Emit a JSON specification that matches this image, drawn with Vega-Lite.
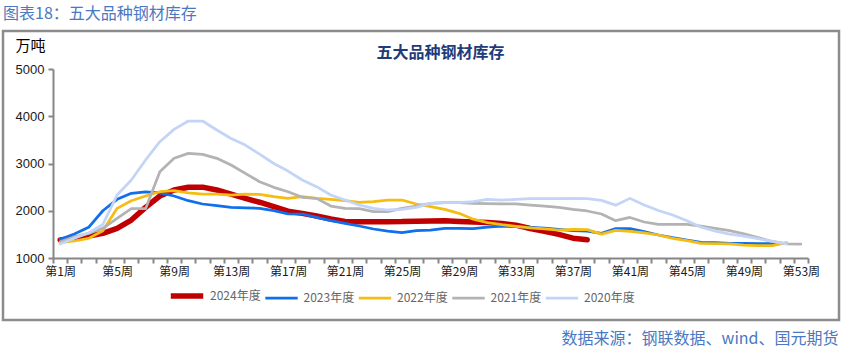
{
"$schema": "https://vega.github.io/schema/vega-lite/v6.json",
"autosize": {"type": "none"},
"width": 836, "height": 289,
"padding": {"left": 3, "top": 31, "right": 8, "bottom": 31},
"background": "white",
"title": {"text": "图表18：五大品种钢材库存", "anchor": "start", "frame": "group", "orient": "top", "offset": 9, "font": "Noto Sans CJK SC", "fontSize": 16, "fontWeight": "normal", "color": "#4a78c2"},
"data": {"values": [
{"week":1,"series":"2024年度","value":1381},{"week":2,"series":"2024年度","value":1416},{"week":3,"series":"2024年度","value":1466},{"week":4,"series":"2024年度","value":1522},{"week":5,"series":"2024年度","value":1628},{"week":6,"series":"2024年度","value":1804},{"week":7,"series":"2024年度","value":2072},{"week":8,"series":"2024年度","value":2312},{"week":9,"series":"2024年度","value":2439},{"week":10,"series":"2024年度","value":2496},{"week":11,"series":"2024年度","value":2500},{"week":12,"series":"2024年度","value":2439},{"week":13,"series":"2024年度","value":2350},{"week":14,"series":"2024年度","value":2260},{"week":15,"series":"2024年度","value":2180},{"week":16,"series":"2024年度","value":2086},{"week":17,"series":"2024年度","value":1990},{"week":18,"series":"2024年度","value":1945},{"week":19,"series":"2024年度","value":1890},{"week":20,"series":"2024年度","value":1825},{"week":21,"series":"2024年度","value":1775},{"week":22,"series":"2024年度","value":1765},{"week":23,"series":"2024年度","value":1765},{"week":24,"series":"2024年度","value":1768},{"week":25,"series":"2024年度","value":1770},{"week":26,"series":"2024年度","value":1780},{"week":27,"series":"2024年度","value":1785},{"week":28,"series":"2024年度","value":1790},{"week":29,"series":"2024年度","value":1775},{"week":30,"series":"2024年度","value":1762},{"week":31,"series":"2024年度","value":1752},{"week":32,"series":"2024年度","value":1730},{"week":33,"series":"2024年度","value":1695},{"week":34,"series":"2024年度","value":1625},{"week":35,"series":"2024年度","value":1565},{"week":36,"series":"2024年度","value":1500},{"week":37,"series":"2024年度","value":1420},{"week":38,"series":"2024年度","value":1385},
{"week":1,"series":"2023年度","value":1395},{"week":2,"series":"2023年度","value":1508},{"week":3,"series":"2023年度","value":1650},{"week":4,"series":"2023年度","value":2000},{"week":5,"series":"2023年度","value":2242},{"week":6,"series":"2023年度","value":2369},{"week":7,"series":"2023年度","value":2397},{"week":8,"series":"2023年度","value":2380},{"week":9,"series":"2023年度","value":2312},{"week":10,"series":"2023年度","value":2213},{"week":11,"series":"2023年度","value":2143},{"week":12,"series":"2023年度","value":2107},{"week":13,"series":"2023年度","value":2072},{"week":14,"series":"2023年度","value":2060},{"week":15,"series":"2023年度","value":2051},{"week":16,"series":"2023年度","value":2001},{"week":17,"series":"2023年度","value":1935},{"week":18,"series":"2023年度","value":1931},{"week":19,"series":"2023年度","value":1861},{"week":20,"series":"2023年度","value":1790},{"week":21,"series":"2023年度","value":1733},{"week":22,"series":"2023年度","value":1677},{"week":23,"series":"2023年度","value":1614},{"week":24,"series":"2023年度","value":1571},{"week":25,"series":"2023年度","value":1536},{"week":26,"series":"2023年度","value":1578},{"week":27,"series":"2023年度","value":1592},{"week":28,"series":"2023年度","value":1628},{"week":29,"series":"2023年度","value":1625},{"week":30,"series":"2023年度","value":1620},{"week":31,"series":"2023年度","value":1655},{"week":32,"series":"2023年度","value":1677},{"week":33,"series":"2023年度","value":1663},{"week":34,"series":"2023年度","value":1650},{"week":35,"series":"2023年度","value":1630},{"week":36,"series":"2023年度","value":1607},{"week":37,"series":"2023年度","value":1578},{"week":38,"series":"2023年度","value":1571},{"week":39,"series":"2023年度","value":1522},{"week":40,"series":"2023年度","value":1621},{"week":41,"series":"2023年度","value":1621},{"week":42,"series":"2023年度","value":1557},{"week":43,"series":"2023年度","value":1487},{"week":44,"series":"2023年度","value":1430},{"week":45,"series":"2023年度","value":1381},{"week":46,"series":"2023年度","value":1332},{"week":47,"series":"2023年度","value":1324},{"week":48,"series":"2023年度","value":1311},{"week":49,"series":"2023年度","value":1311},{"week":50,"series":"2023年度","value":1303},{"week":51,"series":"2023年度","value":1303},{"week":52,"series":"2023年度","value":1303},
{"week":1,"series":"2022年度","value":1324},{"week":2,"series":"2022年度","value":1360},{"week":3,"series":"2022年度","value":1416},{"week":4,"series":"2022年度","value":1578},{"week":5,"series":"2022年度","value":2051},{"week":6,"series":"2022年度","value":2213},{"week":7,"series":"2022年度","value":2312},{"week":8,"series":"2022年度","value":2403},{"week":9,"series":"2022年度","value":2424},{"week":10,"series":"2022年度","value":2380},{"week":11,"series":"2022年度","value":2354},{"week":12,"series":"2022年度","value":2350},{"week":13,"series":"2022年度","value":2333},{"week":14,"series":"2022年度","value":2350},{"week":15,"series":"2022年度","value":2347},{"week":16,"series":"2022年度","value":2298},{"week":17,"series":"2022年度","value":2262},{"week":18,"series":"2022年度","value":2298},{"week":19,"series":"2022年度","value":2262},{"week":20,"series":"2022年度","value":2242},{"week":21,"series":"2022年度","value":2213},{"week":22,"series":"2022年度","value":2178},{"week":23,"series":"2022年度","value":2191},{"week":24,"series":"2022年度","value":2227},{"week":25,"series":"2022年度","value":2227},{"week":26,"series":"2022年度","value":2143},{"week":27,"series":"2022年度","value":2086},{"week":28,"series":"2022年度","value":2030},{"week":29,"series":"2022年度","value":1945},{"week":30,"series":"2022年度","value":1822},{"week":31,"series":"2022年度","value":1750},{"week":32,"series":"2022年度","value":1705},{"week":33,"series":"2022年度","value":1670},{"week":34,"series":"2022年度","value":1640},{"week":35,"series":"2022年度","value":1615},{"week":36,"series":"2022年度","value":1592},{"week":37,"series":"2022年度","value":1607},{"week":38,"series":"2022年度","value":1600},{"week":39,"series":"2022年度","value":1505},{"week":40,"series":"2022年度","value":1585},{"week":41,"series":"2022年度","value":1565},{"week":42,"series":"2022年度","value":1530},{"week":43,"series":"2022年度","value":1487},{"week":44,"series":"2022年度","value":1416},{"week":45,"series":"2022年度","value":1367},{"week":46,"series":"2022年度","value":1311},{"week":47,"series":"2022年度","value":1303},{"week":48,"series":"2022年度","value":1300},{"week":49,"series":"2022年度","value":1275},{"week":50,"series":"2022年度","value":1261},{"week":51,"series":"2022年度","value":1261},{"week":52,"series":"2022年度","value":1324},
{"week":1,"series":"2021年度","value":1345},{"week":2,"series":"2021年度","value":1450},{"week":3,"series":"2021年度","value":1522},{"week":4,"series":"2021年度","value":1628},{"week":5,"series":"2021年度","value":1840},{"week":6,"series":"2021年度","value":2044},{"week":7,"series":"2021年度","value":2044},{"week":8,"series":"2021年度","value":2827},{"week":9,"series":"2021年度","value":3110},{"week":10,"series":"2021年度","value":3215},{"week":11,"series":"2021年度","value":3194},{"week":12,"series":"2021年度","value":3110},{"week":13,"series":"2021年度","value":2968},{"week":14,"series":"2021年度","value":2792},{"week":15,"series":"2021年度","value":2615},{"week":16,"series":"2021年度","value":2496},{"week":17,"series":"2021年度","value":2403},{"week":18,"series":"2021年度","value":2284},{"week":19,"series":"2021年度","value":2262},{"week":20,"series":"2021年度","value":2100},{"week":21,"series":"2021年度","value":2051},{"week":22,"series":"2021年度","value":2044},{"week":23,"series":"2021年度","value":1980},{"week":24,"series":"2021年度","value":1980},{"week":25,"series":"2021年度","value":2051},{"week":26,"series":"2021年度","value":2100},{"week":27,"series":"2021年度","value":2157},{"week":28,"series":"2021年度","value":2170},{"week":29,"series":"2021年度","value":2170},{"week":30,"series":"2021年度","value":2157},{"week":31,"series":"2021年度","value":2150},{"week":32,"series":"2021年度","value":2148},{"week":33,"series":"2021年度","value":2143},{"week":34,"series":"2021年度","value":2121},{"week":35,"series":"2021年度","value":2100},{"week":36,"series":"2021年度","value":2072},{"week":37,"series":"2021年度","value":2030},{"week":38,"series":"2021年度","value":1995},{"week":39,"series":"2021年度","value":1931},{"week":40,"series":"2021年度","value":1790},{"week":41,"series":"2021年度","value":1858},{"week":42,"series":"2021年度","value":1762},{"week":43,"series":"2021年度","value":1713},{"week":44,"series":"2021年度","value":1713},{"week":45,"series":"2021年度","value":1713},{"week":46,"series":"2021年度","value":1677},{"week":47,"series":"2021年度","value":1628},{"week":48,"series":"2021年度","value":1580},{"week":49,"series":"2021年度","value":1510},{"week":50,"series":"2021年度","value":1430},{"week":51,"series":"2021年度","value":1350},{"week":52,"series":"2021年度","value":1300},{"week":53,"series":"2021年度","value":1295},
{"week":1,"series":"2020年度","value":1296},{"week":2,"series":"2020年度","value":1420},{"week":3,"series":"2020年度","value":1530},{"week":4,"series":"2020年度","value":1710},{"week":5,"series":"2020年度","value":2333},{"week":6,"series":"2020年度","value":2650},{"week":7,"series":"2020年度","value":3074},{"week":8,"series":"2020年度","value":3461},{"week":9,"series":"2020年度","value":3723},{"week":10,"series":"2020年度","value":3899},{"week":11,"series":"2020年度","value":3899},{"week":12,"series":"2020年度","value":3709},{"week":13,"series":"2020年度","value":3530},{"week":14,"series":"2020年度","value":3390},{"week":15,"series":"2020年度","value":3200},{"week":16,"series":"2020年度","value":3000},{"week":17,"series":"2020年度","value":2840},{"week":18,"series":"2020年度","value":2650},{"week":19,"series":"2020年度","value":2510},{"week":20,"series":"2020年度","value":2333},{"week":21,"series":"2020年度","value":2227},{"week":22,"series":"2020年度","value":2121},{"week":23,"series":"2020年度","value":2051},{"week":24,"series":"2020年度","value":2016},{"week":25,"series":"2020年度","value":2030},{"week":26,"series":"2020年度","value":2072},{"week":27,"series":"2020年度","value":2157},{"week":28,"series":"2020年度","value":2170},{"week":29,"series":"2020年度","value":2170},{"week":30,"series":"2020年度","value":2191},{"week":31,"series":"2020年度","value":2240},{"week":32,"series":"2020年度","value":2227},{"week":33,"series":"2020年度","value":2240},{"week":34,"series":"2020年度","value":2255},{"week":35,"series":"2020年度","value":2255},{"week":36,"series":"2020年度","value":2258},{"week":37,"series":"2020年度","value":2260},{"week":38,"series":"2020年度","value":2255},{"week":39,"series":"2020年度","value":2220},{"week":40,"series":"2020年度","value":2118},{"week":41,"series":"2020年度","value":2262},{"week":42,"series":"2020年度","value":2121},{"week":43,"series":"2020年度","value":2005},{"week":44,"series":"2020年度","value":1910},{"week":45,"series":"2020年度","value":1790},{"week":46,"series":"2020年度","value":1650},{"week":47,"series":"2020年度","value":1570},{"week":48,"series":"2020年度","value":1505},{"week":49,"series":"2020年度","value":1463},{"week":50,"series":"2020年度","value":1410},{"week":51,"series":"2020年度","value":1350},{"week":52,"series":"2020年度","value":1300}
]},
"layer": [
{
"mark": {"type": "line", "strokeJoin": "round", "strokeCap": "round"},
"encoding": {
"x": {"field": "week", "type": "quantitative",
 "scale": {"domain": [0.5, 53.5], "range": [50, 805], "nice": false, "zero": false},
 "axis": {"orient": "bottom", "offset": -62,
  "values": [0.5,1,1.5,2.5,3.5,4.5,5,5.5,6.5,7.5,8.5,9,9.5,10.5,11.5,12.5,13,13.5,14.5,15.5,16.5,17,17.5,18.5,19.5,20.5,21,21.5,22.5,23.5,24.5,25,25.5,26.5,27.5,28.5,29,29.5,30.5,31.5,32.5,33,33.5,34.5,35.5,36.5,37,37.5,38.5,39.5,40.5,41,41.5,42.5,43.5,44.5,45,45.5,46.5,47.5,48.5,49,49.5,50.5,51.5,52.5,53,53.5],
  "labelExpr": "datum.value % 1 == 0 ? '第' + datum.value + '周' : ''",
  "tickOpacity": {"condition": {"test": "datum.value % 1 != 0", "value": 1}, "value": 0},
  "domain": true, "domainColor": "#868686", "domainWidth": 2, "grid": false,
  "tickSize": 5, "tickWidth": 2, "tickColor": "#868686",
  "labelFont": "Noto Sans CJK SC", "labelFontSize": 12, "labelColor": "#1a1a1a", "labelPadding": 3,
  "labelOverlap": false, "labelFlush": false, "labelBound": false,
  "title": "数据来源：钢联数据、wind、国元期货", "titleX": 835, "titleY": 80, "titleAlign": "right", "titleBaseline": "middle",
  "titleFont": "Noto Sans CJK SC", "titleFontSize": 16, "titleFontWeight": "normal", "titleColor": "#4a78c2"}},
"y": {"field": "value", "type": "quantitative",
 "scale": {"domain": [1000, 5000], "range": [227, 38], "nice": false, "zero": false},
 "axis": {"orient": "left", "offset": -50, "values": [1000,2000,3000,4000,5000], "format": "d",
  "domain": true, "domainColor": "#868686", "domainWidth": 2, "grid": false, "tickSize": 5, "tickWidth": 2, "tickColor": "#868686",
  "labelFont": "Liberation Sans", "labelFontSize": 13, "labelColor": "#1a1a1a", "labelPadding": 4,
  "title": "万吨", "titleAngle": 0, "titleX": -23, "titleY": 14, "titleAlign": "center", "titleBaseline": "middle",
  "titleFont": "Noto Sans CJK SC", "titleFontSize": 15, "titleFontWeight": "normal", "titleColor": "#000000"}},
"color": {"field": "series", "type": "nominal",
 "scale": {"domain": ["2024年度","2023年度","2022年度","2021年度","2020年度"], "range": ["#c00000","#0f6fec","#f5bd12","#b3b3b3","#c3d4f7"]},
 "legend": {"title": null, "orient": "none", "legendX": 165, "legendY": 246, "direction": "horizontal", "symbolType": "stroke", "symbolSize": 1050, "labelFont": "Noto Sans CJK SC", "labelFontSize": 12, "labelColor": "#666666", "labelOffset": 4, "columnPadding": -1.5, "padding": 0}},
"strokeWidth": {"field": "series", "type": "nominal",
 "scale": {"type": "ordinal", "domain": ["2024年度","2023年度","2022年度","2021年度","2020年度"], "range": [5.5,2.75,2.75,2.75,2.75]},
 "legend": {"title": null, "orient": "none", "legendX": 165, "legendY": 246, "direction": "horizontal", "symbolType": "stroke", "symbolSize": 1050, "labelFont": "Noto Sans CJK SC", "labelFontSize": 12, "labelColor": "#666666", "labelOffset": 4, "columnPadding": -1.5, "padding": 0}}
}
},
{
"data": {"values": []},
"mark": {"type": "rule"},
"encoding": {
"x": {"field": "week", "type": "quantitative",
 "axis": {"orient": "top", "domain": false, "ticks": false, "labels": false, "grid": false,
  "title": "五大品种钢材库存", "titleX": 437, "titleY": 21, "titleAlign": "center", "titleBaseline": "middle",
  "titleFont": "Noto Sans CJK SC", "titleFontSize": 16, "titleFontWeight": "bold", "titleColor": "#1f3c78"}}
}
}
],
"resolve": {"axis": {"x": "independent"}},
"config": {"view": {"stroke": "#8c8c8c", "strokeWidth": 2.5}}
}
